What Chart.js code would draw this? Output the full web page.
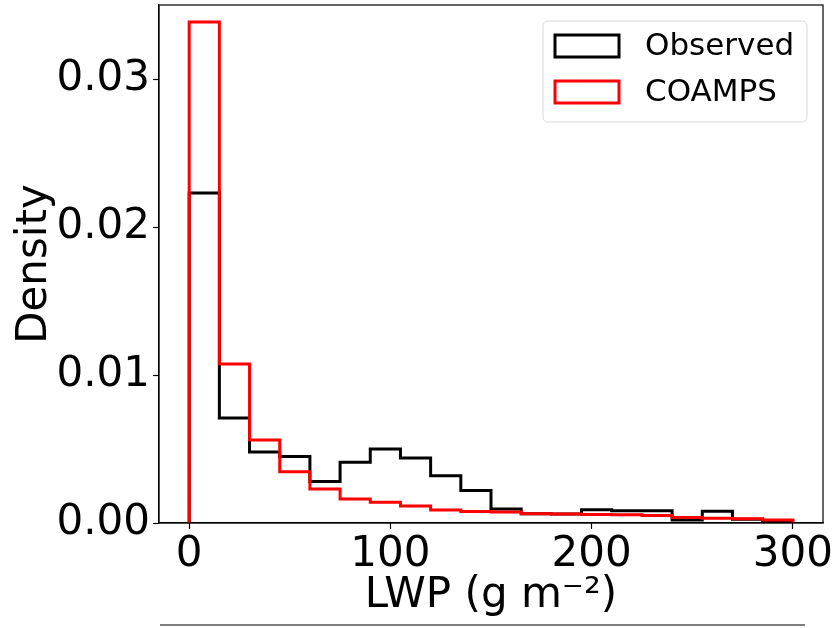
<!DOCTYPE html>
<html>
<head>
<meta charset="utf-8">
<script src="https://cdn.jsdelivr.net/npm/chart.js@4.4.0/dist/chart.umd.min.js"></script>
<style>
html, body { margin: 0; padding: 0; background: #fff; }
#wrap { width: 838px; height: 628px; position: relative; }
</style>
</head>
<body>
<div id="wrap"><canvas id="chart"></canvas></div>
<script>
// --- Data ---
const binEdges = [0, 15, 30, 45, 60, 75, 90, 105, 120, 135, 150, 165, 180, 195, 210, 225, 240, 255, 270, 285, 300];
const observed = [0.0223, 0.0071, 0.0048, 0.0045, 0.0028, 0.0041, 0.0050, 0.0044, 0.0032, 0.0022,
                  0.00095, 0.00062, 0.0006, 0.0009, 0.00083, 0.00083, 0.0002, 0.0008, 0.00025, 0.00013];
const coamps = [0.03385, 0.01074, 0.0056, 0.00347, 0.0023, 0.00162, 0.0014, 0.00115, 0.00088, 0.00077,
                0.00075, 0.00062, 0.0006, 0.00058, 0.00055, 0.0005, 0.00038, 0.00032, 0.00028, 0.0002];
const xTicks = [0, 100, 200, 300];
const yTicks = [0, 0.01, 0.02, 0.03];

const FONT = "'DejaVu Sans', sans-serif";

// step outline like matplotlib histtype='step'
const stepPoints = (values) => {
    const pts = [{ x: binEdges[0], y: 0 }];
    values.forEach((v, i) => {
        pts.push({ x: binEdges[i], y: v });
        pts.push({ x: binEdges[i + 1], y: v });
    });
    pts.push({ x: binEdges[binEdges.length - 1], y: 0 });
    return pts;
};

// frame, legend and the stray line under the axes
const extras = {
    id: 'extras',
    afterDatasetsDraw(chart) {
        const { ctx, chartArea: a } = chart;
        ctx.save();
        ctx.strokeStyle = '#000';
        ctx.lineWidth = 1.2;
        ctx.strokeRect(a.left, a.top, a.right - a.left, a.bottom - a.top);

        // legend
        const lx = a.right - 280, ly = a.top + 16, lw = 264, lh = 101;
        ctx.beginPath();
        ctx.roundRect(lx, ly, lw, lh, 5);
        ctx.fillStyle = 'rgba(255,255,255,0.8)';
        ctx.fill();
        ctx.strokeStyle = '#d8d8d8';
        ctx.lineWidth = 1;
        ctx.stroke();
        ctx.font = `31px ${FONT}`;
        ctx.textBaseline = 'middle';
        const items = [chart.data.datasets[1], chart.data.datasets[0]];
        items.forEach((ds, i) => {
            const cy = ly + 25 + i * 46;
            ctx.strokeStyle = ds.borderColor;
            ctx.lineWidth = 3;
            ctx.strokeRect(lx + 12, cy - 11, 64, 22);
            ctx.fillStyle = '#000';
            ctx.fillText(ds.label, lx + 102, cy + 1);
        });

        ctx.strokeStyle = '#555';
        ctx.lineWidth = 1.5;
        ctx.beginPath();
        ctx.moveTo(160, 625);
        ctx.lineTo(805, 625);
        ctx.stroke();
        ctx.restore();
    }
};

new Chart(document.getElementById('chart'), {
    type: 'line',
    data: {
        datasets: [
            { label: 'COAMPS', data: stepPoints(coamps), borderColor: '#ff0000', order: 0 },
            { label: 'Observed', data: stepPoints(observed), borderColor: '#000000', order: 1 }
        ]
    },
    options: {
        responsive: true,
        maintainAspectRatio: false,
        animation: false,
        layout: { padding: { top: 5, right: 15, left: 0, bottom: 0 } },
        elements: {
            line: { borderWidth: 3, tension: 0, fill: false, borderJoinStyle: 'miter', borderCapStyle: 'butt' },
            point: { radius: 0 }
        },
        plugins: { legend: { display: false }, tooltip: { enabled: false } },
        scales: {
            x: {
                type: 'linear',
                min: -15,
                max: 315,
                afterBuildTicks: (s) => { s.ticks = xTicks.map(v => ({ value: v })); },
                afterFit: (s) => { s.height = 105; s.paddingLeft = 0; s.paddingRight = 0; },
                grid: { drawOnChartArea: false, tickLength: 6, tickColor: '#000', tickWidth: 1.2 },
                border: { color: '#000', width: 1.2 },
                ticks: { color: '#000', font: { family: FONT, size: 42 }, padding: 1, maxRotation: 0 },
                title: {
                    display: true, text: 'LWP (g m⁻²)', color: '#000',
                    font: { family: FONT, size: 42 }, padding: { top: 0, bottom: 7 }
                }
            },
            y: {
                type: 'linear',
                min: 0,
                max: 0.035,
                afterBuildTicks: (s) => { s.ticks = yTicks.map(v => ({ value: v })); },
                afterFit: (s) => { s.width = 159; s.paddingTop = 0; s.paddingBottom = 0; },
                grid: { drawOnChartArea: false, tickLength: 6, tickColor: '#000', tickWidth: 1.2 },
                border: { color: '#000', width: 1.2 },
                ticks: {
                    color: '#000', font: { family: FONT, size: 42 }, padding: 3,
                    callback: (v) => v.toFixed(2)
                },
                title: {
                    display: true, text: 'Density', color: '#000',
                    font: { family: FONT, size: 42 }, padding: { top: 10, bottom: 0 }
                }
            }
        }
    },
    plugins: [extras]
});
</script>
</body>
</html>
